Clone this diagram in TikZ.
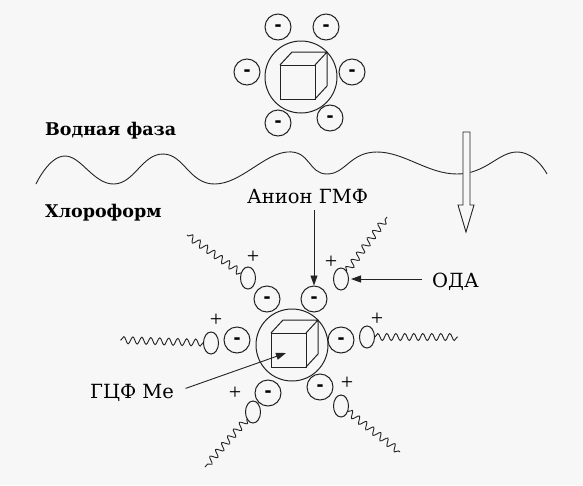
\documentclass[tikz,border=0pt]{standalone}
\usepackage{fontspec}
\setmainfont{DejaVu Serif}
\newfontfamily\labelfam{DejaVu Serif}
\newfontfamily\timesfam{Liberation Serif}
\newfontfamily\arialfam{Liberation Sans}
\usetikzlibrary{arrows.meta,shapes.geometric,decorations.pathmorphing}

\definecolor{paper}{RGB}{247,247,247}
\definecolor{ink}{RGB}{35,35,35}

\begin{document}
\begin{tikzpicture}[x=1pt,y=-1pt,
  ion/.style={circle,draw=ink,line width=1pt,minimum size=26pt,inner sep=0pt,
    text height=0.8em,text depth=0pt,font=\arialfam\fontsize{21}{21}\selectfont\bfseries},
  core/.style={circle,draw=ink,line width=1pt,minimum size=72pt,inner sep=0pt},
  head/.style={ellipse,draw=ink,line width=1pt,minimum width=15pt,minimum height=22pt,inner sep=0pt},
  charge/.style={inner sep=0pt,font=\timesfam\fontsize{22}{22}\selectfont},
  tail/.style={draw=ink,line width=0.9pt,decorate,
    decoration={snake,segment length=9pt,amplitude=3.5pt}},
  lbl/.style={inner sep=0pt,anchor=base west,font=\labelfam\fontsize{19.5}{19.5}\selectfont},
  phase/.style={inner sep=0pt,anchor=base west,font=\labelfam\fontsize{17.5}{17.5}\selectfont\bfseries},
  pointer/.style={draw=ink,line width=0.9pt,-{Triangle[length=10pt,width=7pt]}},
  crystal/.pic={
    \draw[ink,line width=1pt] (-21,-12) rectangle (14,22);
    \draw[ink,line width=1pt,line join=round] (-21,-12) -- (-9,-25) -- (26,-25) -- (14,-12)
      (26,-25) -- (26,9) -- (14,22);
  },
]
\fill[paper] (0,0) rectangle (583,485);
\useasboundingbox (0,0) rectangle (583,485);

% ---- particle in the water phase ----
\node[core] (tcore) at (301,77) {};
\pic at (tcore) {crystal};
\node[ion] (tm1) at (278,27) {-};
\node[ion] (tm2) at (326,27) {-};
\node[ion] (tm3) at (352,72) {-};
\node[ion] (tm4) at (247,72) {-};
\node[ion] (tm5) at (278,123) {-};
\node[ion] (tm6) at (330,118) {-};

% ---- phase labels ----
\node[phase] (water) at (45,135) {Водная фаза};
\node[phase] (chloro) at (45,217) {Хлороформ};

% ---- interface ----
\draw[ink,line width=0.9pt] plot[smooth,tension=0.75] coordinates {
  (36,184) (65,156) (114,184) (163,154) (215,184) (287,152) (327,174)
  (377,152) (457,174) (517,152) (547,174)};

% ---- transfer direction ----
\draw[ink,line width=0.9pt,fill=paper,line join=miter]
  (463,132) -- (463,205) -- (458,205) -- (466,232) -- (474,205)
  -- (470,205) -- (470,132) -- cycle;

% ---- particle in chloroform ----
\node[core] (bcore) at (292,345) {};
\pic at (bcore) {crystal};
\coordinate (ctarget) at (286,353);

\node[ion] (bm1) at (314,299) {-};
\node[ion] (bm2) at (267,299) {-};
\node[ion] (bm3) at (237,340) {-};
\node[ion] (bm4) at (341,340) {-};
\node[ion] (bm5) at (320,387) {-};
\node[ion] (bm6) at (268,393) {-};

\node[head] (bh1) at (248,278) {};
\node[head] (bh2) at (341,279) {};
\node[head] (bh3) at (211,343) {};
\node[head] (bh4) at (367,337) {};
\node[head] (bh5) at (253,412) {};
\node[head] (bh6) at (341,406) {};

\node[charge] (bp1) at (253,257) {+};
\node[charge] (bp2) at (331,262) {+};
\node[charge] (bp3) at (216,320) {+};
\node[charge] (bp4) at (377,319) {+};
\node[charge] (bp5) at (235,393) {+};
\node[charge] (bp6) at (347,383) {+};

\coordinate (bt1) at (187,235);
\coordinate (bt2) at (387,217);
\coordinate (bt3) at (120,340);
\coordinate (bt4) at (458,337);
\coordinate (bt5) at (205,467);
\coordinate (bt6) at (400,452);

\draw[tail] (bh1) -- (bt1);
\draw[tail] (bh2) -- (bt2);
\draw[tail] (bh3) -- (bt3);
\draw[tail] (bh4) -- (bt4);
\draw[tail] (bh5) -- (bt5);
\draw[tail] (bh6) -- (bt6);

% ---- labels and pointers ----
\node[lbl] (anion) at (247,203) {Анион ГМФ};
\node[lbl] (oda) at (432,287) {ОДА};
\node[lbl] (gcf) at (90,398) {ГЦФ Me};

\draw[pointer,shorten <=7pt] (bm1 |- anion.south) -- (bm1);
\draw[pointer,shorten <=10pt,shorten >=2pt] (oda.west |- bh2) -- (bh2);
\draw[pointer,shorten <=12pt] (gcf.east) -- (ctarget);
\end{tikzpicture}
\end{document}
